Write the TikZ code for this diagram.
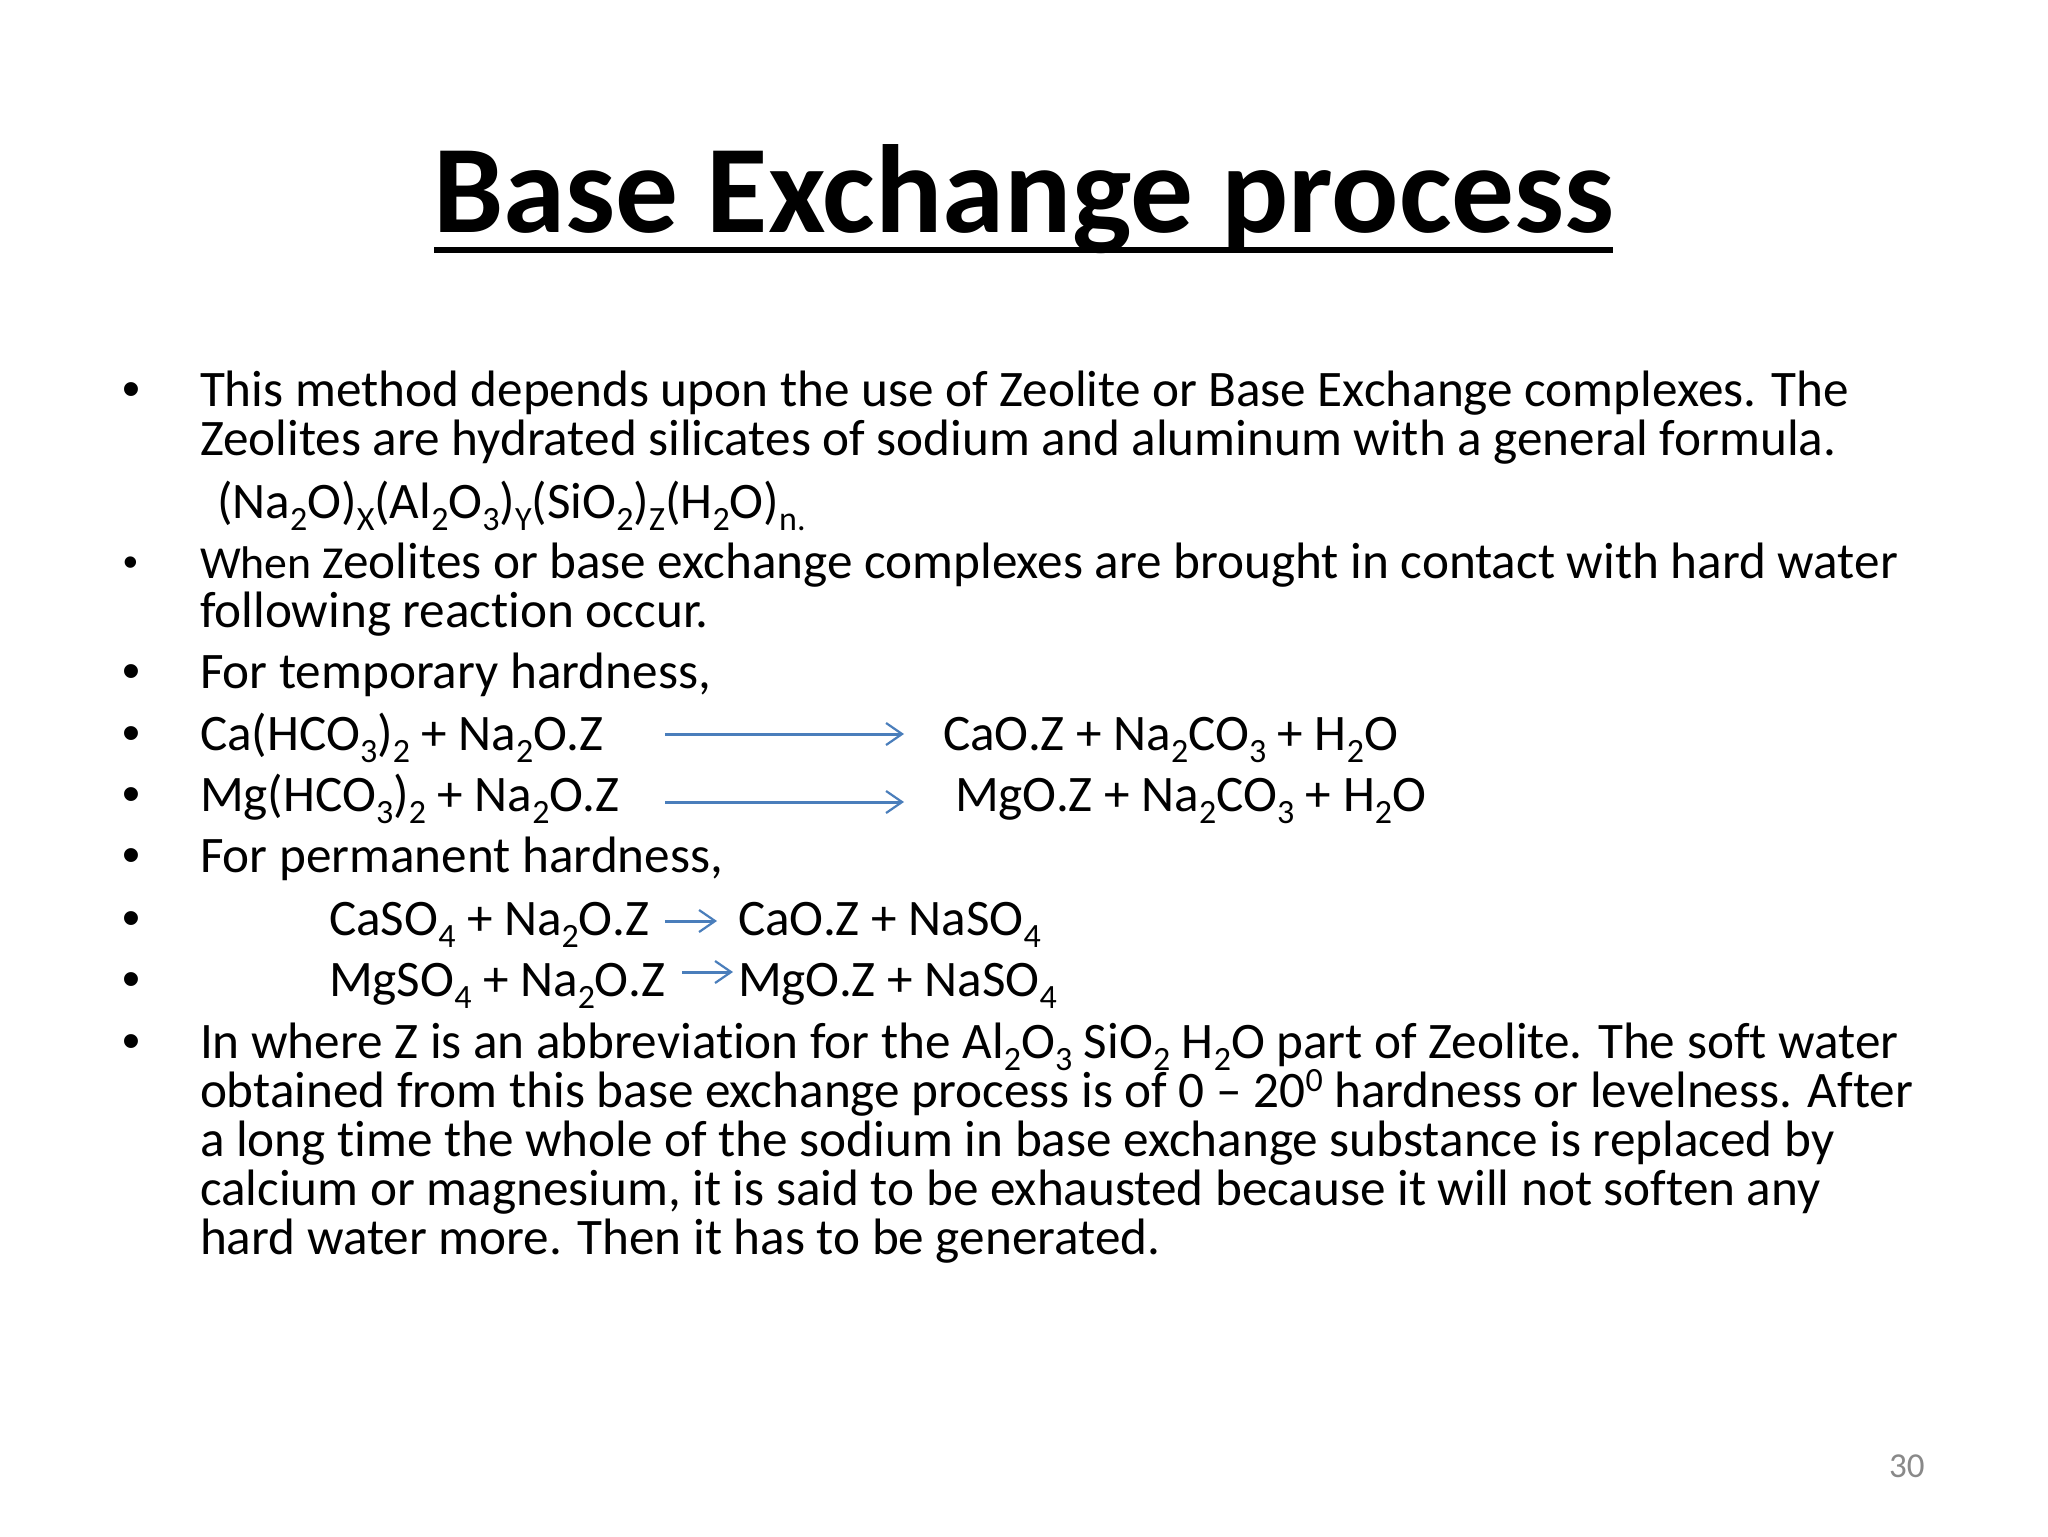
\documentclass[tikz,border=0pt]{standalone}
\usepackage{fontspec}
\setmainfont[Ligatures=NoCommon]{Carlito}
\newfontfamily\bulletfont{Liberation Sans}
\usetikzlibrary{arrows.meta}
\definecolor{arrowblue}{HTML}{4A7EBB}
\definecolor{pagegrey}{HTML}{898989}
\newcommand{\dn}[1]{\raisebox{-0.24em}{\fontsize{17}{17}\selectfont #1}}
\newcommand{\up}[1]{\raisebox{0.3em}{\fontsize{17}{17}\selectfont #1}}
\tikzset{
  x=0.5pt,y=-0.5pt,
  bodytext/.style={anchor=base west,inner sep=0pt,outer sep=0pt,font=\fontsize{25.6}{25.6}\selectfont},
  bulletmark/.style={anchor=base,inner sep=0pt,outer sep=0pt,font=\bulletfont\fontsize{25.6}{25.6}\selectfont},
  titletext/.style={anchor=base,inner sep=0pt,outer sep=0pt,font=\fontsize{62.7}{62.7}\selectfont\bfseries},
  reaction/.style={draw=arrowblue,line width=1.5pt,-{Straight Barb[length=8pt,width=11pt,line width=1.1pt]}},
}
\begin{document}
\begin{tikzpicture}
\useasboundingbox (0,0) rectangle (2048,1536);
\fill[white] (0,0) rectangle (2048,1536);
\node[titletext] (title) at (1024,232) {Base Exchange process};
\coordinate (ulL) at (434,250);
\coordinate (ulR) at (1613,250);
\draw[line width=3.2pt] (ulL) -- (ulR);
% bullets
\foreach \n/\y in {a/406,c/688,d/750,e/811,f/872,g/935,h/996,i/1058}{
  \node[bulletmark] (bul\n) at (131,\y) {•};
}
\node[bulletmark,font=\bulletfont\fontsize{21}{21}\selectfont] (bulb) at (131,576) {•};
\node[bodytext] (l1) at (200,406.5) {This method depends upon the use of Zeolite or Base Exchange complexes. The};
\node[bodytext] (l2) at (200,455.5) {Zeolites are hydrated silicates of sodium and aluminum with a general formula.};
\node[bodytext] (l3) at (217,518.5) {(Na\dn{2}O)\dn{X}(Al\dn{2}O\dn{3})\dn{Y}(SiO\dn{2})\dn{Z}(H\dn{2}O)\dn{n.}};
\node[bodytext] (l4) at (200,578.5) {{\fontsize{22.9}{22.9}\selectfont When Z}eolites or base exchange complexes are brought in contact with hard water};
\node[bodytext] (l5) at (200,627.5) {following reaction occur.};
\node[bodytext] (l6) at (200,688.5) {For temporary hardness,};
\node[bodytext] (r1) at (200,750.5) {Ca(HCO\dn{3})\dn{2} + Na\dn{2}O.Z};
\node[bodytext] (p1) at (943,750.5) {CaO.Z + Na\dn{2}CO\dn{3} + H\dn{2}O};
\node[bodytext] (r2) at (200,811.5) {Mg(HCO\dn{3})\dn{2} + Na\dn{2}O.Z};
\node[bodytext] (p2) at (955,811.5) {MgO.Z + Na\dn{2}CO\dn{3} + H\dn{2}O};
\node[bodytext] (l7) at (200,872.5) {For permanent hardness,};
\node[bodytext] (r3) at (329,935.5) {CaSO\dn{4} + Na\dn{2}O.Z};
\node[bodytext] (p3) at (738,935.5) {CaO.Z + NaSO\dn{4}};
\node[bodytext] (r4) at (329,996.5) {MgSO\dn{4} + Na\dn{2}O.Z};
\node[bodytext] (p4) at (738,996.5) {MgO.Z + NaSO\dn{4}};
\node[bodytext] (l8) at (200,1058) {In where Z is an abbreviation for the Al\dn{2}O\dn{3} SiO\dn{2} H\dn{2}O part of Zeolite. The soft water};
\node[bodytext] (l9) at (200,1107) {obtained from this base exchange process is of 0 – 20\up{0} hardness or levelness. After};
\node[bodytext] (l10) at (200,1156) {a long time the whole of the sodium in base exchange substance is replaced by};
\node[bodytext] (l11) at (200,1205) {calcium or magnesium, it is said to be exhausted because it will not soften any};
\node[bodytext] (l12) at (200,1254) {hard water more. Then it has to be generated.};
% arrows
\coordinate (a1s) at (665,734); \coordinate (a1e) at (904,734);
\coordinate (a2s) at (665,802); \coordinate (a2e) at (904,802);
\coordinate (a3s) at (665,921); \coordinate (a3e) at (717,921);
\coordinate (a4s) at (682,972); \coordinate (a4e) at (733,972);
\draw[reaction] (a1s) -- (a1e);
\draw[reaction] (a2s) -- (a2e);
\draw[reaction] (a3s) -- (a3e);
\draw[reaction] (a4s) -- (a4e);
\node[anchor=base east,inner sep=0pt,text=pagegrey,font=\fontsize{17.5}{17.5}\selectfont] (pagenum) at (1925,1477) {30};
\end{tikzpicture}
\end{document}
